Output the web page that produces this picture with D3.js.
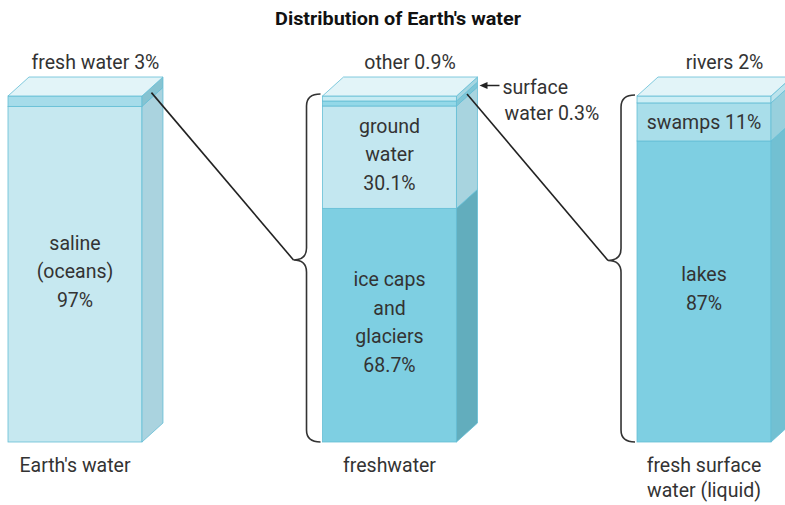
<!DOCTYPE html>
<html><head><meta charset="utf-8">
<script src="https://cdn.jsdelivr.net/npm/d3@7"></script>
<style>body{margin:0;background:#fff;}svg{display:block;}</style>
</head><body>
<svg id="c" width="785" height="505"></svg>
<script>
// ---- data ----
const title = "Distribution of Earth's water";
const bars = ["Earth's water", "freshwater", "fresh surface water (liquid)"];
const barLabelLines = [["Earth's water"], ["freshwater"], ["fresh surface", "water (liquid)"]];
// segments listed bottom -> top
const earthSegments = ["saline (oceans)", "fresh water"];
const earthValues = [97, 3];
const freshSegments = ["ice caps and glaciers", "ground water", "surface water", "other"];
const freshValues = [68.7, 30.1, 0.3, 0.9];
const surfaceSegments = ["lakes", "swamps", "rivers"];
const surfaceValues = [87, 11, 2];
const earthInside = [["saline", "(oceans)", "97%"], null];
const freshInside = [["ice caps", "and", "glaciers", "68.7%"], ["ground", "water", "30.1%"], null, null];
const surfaceInside = [["lakes", "87%"], ["swamps 11%"], null];
const topLabels = ["fresh water 3%", "other 0.9%", "rivers 2%"];
const calloutLines = ["surface", "water 0.3%"];

// ---- styles ----
const earthColors = ["#c6e8f0", "#a6dcea"];
const earthSides = ["#aad3df", "#86c3d1"];
const freshColors = ["#7ecfe2", "#c3e7f0", "#93d8e8", "#c6ebf3"];
const freshSides = ["#62adbd", "#a8d4df", "#7fc6d6", "#a5d6e1"];
const surfaceColors = ["#7ecfe2", "#a9deea", "#cdeef5"];
const surfaceSides = ["#72c0d2", "#98d0dd", "#bce3ec"];
const topColor = "#e2f4f8";
const edge = "#64bed5";
const ink = "#333";
const font = "Roboto, 'DejaVu Sans', sans-serif";
const fs = 19.5;

const svg = d3.select("#c");
const x = d3.scaleBand().domain(bars).range([8, 771]).paddingInner(0.574).paddingOuter(0);
const bw = x.bandwidth();
const dx = 21, dy = 19;
const yTop = 96, yBot = 442;
const minPx = 5;

const barData = [
  {segs: earthSegments, vals: earthValues, cols: earthColors, sides: earthSides, inside: earthInside},
  {segs: freshSegments, vals: freshValues, cols: freshColors, sides: freshSides, inside: freshInside},
  {segs: surfaceSegments, vals: surfaceValues, cols: surfaceColors, sides: surfaceSides, inside: surfaceInside}
];

// stacked geometry through linear scales, with a minimum visible height for tiny slices
barData.forEach((b, bi) => {
  const total = d3.sum(b.vals);
  const lin = d3.scaleLinear().domain([0, total]).range([0, yBot - yTop]);
  const small = b.vals.map(v => lin(v) < minPx);
  const fixed = small.filter(Boolean).length * minPx;
  const bigTotal = d3.sum(b.vals.filter((v, i) => !small[i]));
  const lin2 = d3.scaleLinear().domain([0, bigTotal]).range([0, yBot - yTop - fixed]);
  const h = b.vals.map((v, i) => small[i] ? minPx : lin2(v));
  let cur = yBot;
  b.geo = h.map(hh => { const g = {y0: cur, y1: cur - hh}; cur -= hh; return g; });
  b.x = x(bars[bi]);
});

const g = svg.append("g");

barData.forEach((b, bi) => {
  const x0 = b.x, x1 = b.x + bw;
  const bg = g.append("g");
  b.geo.forEach((s, i) => {
    bg.append("rect").attr("x", x0).attr("y", s.y1).attr("width", bw).attr("height", s.y0 - s.y1)
      .attr("fill", b.cols[i]).attr("stroke", edge).attr("stroke-width", 0.8);
    bg.append("path")
      .attr("d", `M${x1},${s.y1}L${x1 + dx},${s.y1 - dy}L${x1 + dx},${s.y0 - dy}L${x1},${s.y0}Z`)
      .attr("fill", b.sides[i]).attr("stroke", edge).attr("stroke-width", 0.8);
  });
  const t = b.geo[b.geo.length - 1].y1;
  bg.append("path")
    .attr("d", `M${x0},${t}L${x0 + dx},${t - dy}L${x1 + dx},${t - dy}L${x1},${t}Z`)
    .attr("fill", topColor).attr("stroke", edge).attr("stroke-width", 0.8);

  // inside labels
  b.geo.forEach((s, i) => {
    const lines = b.inside[i];
    if (!lines) return;
    const cy = (s.y0 + s.y1) / 2;
    const lh = 28.5;
    const n = lines.length;
    lines.forEach((ln, k) => {
      g.append("text").attr("x", x0 + bw / 2).attr("y", cy + (k - (n - 1) / 2) * lh - (n > 1 ? 3 : 0) + 7)
        .attr("text-anchor", "middle").attr("font-family", font).attr("font-size", fs)
        .attr("fill", ink).text(ln);
    });
  });

  // top label
  g.append("text").attr("x", x0 + (bw + dx) / 2 + 10).attr("y", 69)
    .attr("text-anchor", "middle").attr("font-family", font).attr("font-size", fs)
    .attr("fill", ink).text(topLabels[bi]);

  // bottom labels
  barLabelLines[bi].forEach((ln, k) => {
    g.append("text").attr("x", x0 + bw / 2).attr("y", 472 + k * 25)
      .attr("text-anchor", "middle").attr("font-family", font).attr("font-size", fs)
      .attr("fill", ink).text(ln);
  });
});

// braces
function brace(bx, top, bot) {
  const xv = bx - 16, xt = bx - 29, mid = (top + bot) / 2 - 8, r = 12;
  const p = d3.path();
  p.moveTo(bx - 2, top);
  p.quadraticCurveTo(xv, top, xv, top + r);
  p.lineTo(xv, mid - r);
  p.quadraticCurveTo(xv, mid, xt, mid);
  p.quadraticCurveTo(xv, mid, xv, mid + r);
  p.lineTo(xv, bot - r);
  p.quadraticCurveTo(xv, bot, bx - 2, bot);
  return {d: p.toString(), tip: [xt, mid]};
}
const br2 = brace(barData[1].x, yTop - 2, yBot);
const br3 = brace(barData[2].x, yTop - 1, yBot);
[br2, br3].forEach(b => g.append("path").attr("d", b.d).attr("fill", "none")
  .attr("stroke", "#333").attr("stroke-width", 1.6));

// connectors
function sidePoint(b, segIdx, f) {
  const s = b.geo[segIdx];
  const xx = b.x + bw + dx * f;
  return [xx, (s.y0 + s.y1) / 2 - dy * f];
}
const c1 = sidePoint(barData[0], 1, 0.45);
const c2 = sidePoint(barData[1], 2, 0.5);
g.append("line").attr("x1", c1[0]).attr("y1", c1[1]).attr("x2", br2.tip[0]).attr("y2", br2.tip[1])
  .attr("stroke", "#222").attr("stroke-width", 1.6);
g.append("line").attr("x1", c2[0]).attr("y1", c2[1]).attr("x2", br3.tip[0]).attr("y2", br3.tip[1])
  .attr("stroke", "#222").attr("stroke-width", 1.6);

// surface water callout arrow
const a = sidePoint(barData[1], 2, 1);
g.append("line").attr("x1", a[0] + 8).attr("y1", a[1] + 1).attr("x2", a[0] + 22).attr("y2", a[1] + 1)
  .attr("stroke", "#222").attr("stroke-width", 1.5);
g.append("path").attr("d", `M${a[0] + 2},${a[1] + 1}L${a[0] + 10},${a[1] - 2.5}L${a[0] + 10},${a[1] + 4.5}Z`)
  .attr("fill", "#222");
calloutLines.forEach((ln, k) => {
  g.append("text").attr("x", a[0] + 25 + k * 2).attr("y", 94 + k * 26)
    .attr("font-family", font).attr("font-size", fs).attr("fill", ink).text(ln);
});

// title
svg.append("text").attr("x", 398).attr("y", 25).attr("text-anchor", "middle")
  .attr("font-family", "Roboto, 'DejaVu Sans', sans-serif")
  .attr("font-weight", "bold").attr("font-size", 18)
  .attr("textLength", 246).attr("lengthAdjust", "spacingAndGlyphs")
  .attr("fill", "#111").text(title);
</script>
</body></html>
